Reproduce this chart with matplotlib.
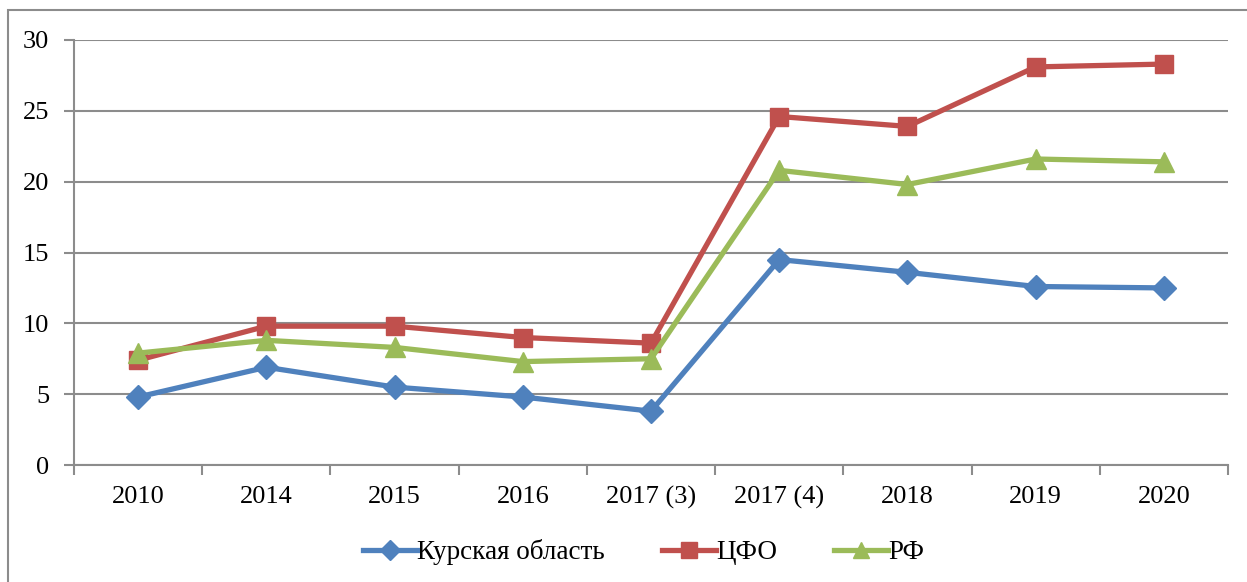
import matplotlib
matplotlib.use("Agg")
import matplotlib.pyplot as plt
from matplotlib.patches import Rectangle
import numpy as np

categories = ["2010", "2014", "2015", "2016", "2017 (3)", "2017 (4)", "2018", "2019", "2020"]
kursk = [4.8, 6.9, 5.5, 4.8, 3.8, 14.5, 13.6, 12.6, 12.5]
cfo = [7.4, 9.8, 9.8, 9.0, 8.6, 24.6, 23.9, 28.1, 28.3]
rf = [7.9, 8.8, 8.3, 7.3, 7.5, 20.8, 19.8, 21.6, 21.4]
series_names = ["Курская область", "ЦФО", "РФ"]

plt.rcParams['font.family'] = ['Liberation Serif', 'DejaVu Serif']

W, H = 1247, 582
fig = plt.figure(figsize=(W / 100, H / 100), dpi=100)
ax = fig.add_axes([74 / W, 1 - 465 / H, (1228 - 74) / W, (465 - 40) / H])

grid_c = "#8c8c8c"
x = np.arange(len(categories))
ax.plot(x, kursk, color="#4F81BD", lw=3.8, marker="D", ms=12, label=series_names[0], zorder=3)
ax.plot(x, cfo, color="#C0504D", lw=3.8, marker="s", ms=13, label=series_names[1], zorder=3)
ax.plot(x, rf, color="#9BBB59", lw=3.8, marker="^", ms=14, label=series_names[2], zorder=3)

ax.set_xlim(-0.5, len(categories) - 0.5)
ax.set_ylim(0, 30)
ax.set_yticks(range(0, 31, 5))
ax.yaxis.grid(True, color=grid_c, lw=1.5)
ax.set_axisbelow(True)

ax.set_xticks(x)
ax.set_xticklabels(categories)
ax.set_xticks(np.arange(-0.5, len(categories), 1), minor=True)
ax.tick_params(axis="x", which="major", length=0, pad=15, labelsize=19)
ax.tick_params(axis="x", which="minor", length=7, width=1.5, color=grid_c, direction="out")
ax.tick_params(axis="y", length=7, width=1.5, color=grid_c, pad=11, labelsize=19)

for s in ["top", "right"]:
    ax.spines[s].set_visible(False)
for s in ["left", "bottom"]:
    ax.spines[s].set_color(grid_c)
    ax.spines[s].set_linewidth(1.5)

fig.legend(loc="center", bbox_to_anchor=(0.516, 1 - 552 / H), ncol=3, frameon=False,
           fontsize=19.5, handlelength=2.0, handletextpad=0.0, columnspacing=2.1,
           markerscale=0.85)

fig.patches.append(Rectangle((8 / W, -0.01), 1.02, 1 - 10 / H + 0.01, transform=fig.transFigure,
                             fill=False, edgecolor=grid_c, lw=1.5))

fig.savefig("out.png", dpi=100)
